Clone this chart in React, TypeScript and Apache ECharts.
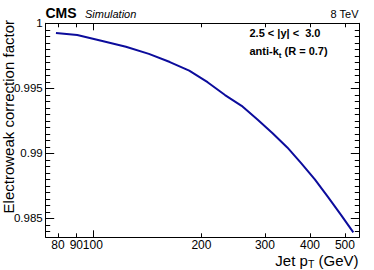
import React, { useEffect, useRef } from "react";
import * as echarts from "echarts";

// Jet pT bin centres (GeV) and electroweak correction factor
const PT = [79, 90.5, 105.5, 123.5, 143, 163.5, 185, 208, 232.5, 258.5, 286, 315, 346, 378.5, 412.5, 449, 487.5, 527.5];
const EW = [0.99925, 0.9991, 0.99866, 0.9982, 0.99765, 0.99702, 0.99636, 0.99547, 0.99448, 0.99365, 0.9926, 0.99155, 0.99045, 0.98923, 0.988, 0.98663, 0.98527, 0.98392];

const X_RANGE = [74, 548];
const Y_RANGE = [0.98354, 1.0];
const X_LABELS = [80, 90, 100, 200, 300, 400, 500];
const X_LONG_TICKS = [100];
const X_SHORT_TICKS = [80, 90, 200, 300, 400, 500];
const Y_LABELS = [0.985, 0.99, 0.995, 1];
const Y_MINOR_STEP = 0.0005;

const FONT = '"Liberation Sans", Arial, Helvetica, sans-serif';

const txt = (x: number, y: number, text: string, size: number, align: string, extra: any = {}) => ({
  type: "text",
  x,
  y,
  ...(extra.rotation !== undefined ? { rotation: extra.rotation } : {}),
  style: {
    text,
    fontSize: size,
    fontFamily: FONT,
    fontWeight: extra.fontWeight || "normal",
    fontStyle: extra.fontStyle || "normal",
    fill: "#000",
    align,
    textAlign: align,
    verticalAlign: "middle",
    textVerticalAlign: "middle",
    ...(extra.rich ? { rich: extra.rich } : {}),
  },
});

export default function App() {
  const ref = useRef<HTMLDivElement>(null);
  useEffect(() => {
    const chart = echarts.init(ref.current!, null, { renderer: "svg" });

    const yMinor: number[] = [];
    for (let k = 0; ; k++) {
      const v = Math.round((0.984 + k * Y_MINOR_STEP) * 1e5) / 1e5;
      if (v > Y_RANGE[1] + 1e-9) break;
      if (!Y_LABELS.some((l) => Math.abs(l - v) < 1e-9)) yMinor.push(v);
    }

    const lineStyle = { color: "#000", width: 1 };

    const xAxis = (position: string, ticks: number[], len: number, withLine: boolean, withLabels: boolean) => ({
      type: "log",
      logBase: 10,
      min: X_RANGE[0],
      max: X_RANGE[1],
      position,
      splitLine: { show: false },
      minorTick: { show: false },
      axisLine: { show: withLine, lineStyle },
      axisTick: { show: true, inside: true, length: len, customValues: ticks, lineStyle },
      axisLabel: withLabels
        ? {
            show: true,
            customValues: X_LABELS,
            formatter: (v: number) => String(Math.round(v)),
            fontSize: 12,
            fontFamily: FONT,
            color: "#000",
            margin: 1.5,
          }
        : { show: false },
    });

    const yAxis = (position: string, ticks: number[], len: number, withLine: boolean, withLabels: boolean) => ({
      type: "value",
      min: Y_RANGE[0],
      max: Y_RANGE[1],
      position,
      splitLine: { show: false },
      minorTick: { show: false },
      axisLine: { show: withLine, lineStyle },
      axisTick: { show: true, inside: true, length: len, customValues: ticks, lineStyle },
      axisLabel: withLabels
        ? {
            show: true,
            customValues: Y_LABELS,
            formatter: (v: number) => String(v),
            fontSize: 11.5,
            fontFamily: FONT,
            color: "#000",
            margin: 3,
          }
        : { show: false },
    });

    chart.setOption({
      animation: false,
      backgroundColor: "#fff",
      grid: { left: 45.7, right: 14.7, top: 23.3, bottom: 32.7, containLabel: false, outerBoundsMode: "none" },
      xAxis: [
        xAxis("bottom", X_SHORT_TICKS, 4, true, true),
        xAxis("bottom", X_LONG_TICKS, 7, false, false),
        xAxis("top", X_SHORT_TICKS, 4, true, false),
        xAxis("top", X_LONG_TICKS, 7, false, false),
      ],
      yAxis: [
        yAxis("left", Y_LABELS, 8.5, true, true),
        yAxis("left", yMinor, 4.5, false, false),
        yAxis("right", Y_LABELS, 8.5, true, false),
        yAxis("right", yMinor, 4.5, false, false),
      ],
      series: [
        {
          type: "line",
          xAxisIndex: 0,
          yAxisIndex: 0,
          data: PT.map((p, i) => [p, EW[i]]),
          symbol: "none",
          showSymbol: false,
          lineStyle: { color: "#0c0c9c", width: 2 },
          z: 5,
        },
      ],
      graphic: [
        txt(45.5, 12.5, "CMS", 14, "left", { fontWeight: "bold" }),
        txt(85, 13.5, "Simulation", 11, "left", { fontStyle: "italic" }),
        txt(358.5, 13.5, "8 TeV", 11, "right"),
        txt(249.5, 33, "2.5 < |y| <  3.0", 11, "left", { fontWeight: "bold" }),
        txt(249.5, 51, "anti-k{s|t} (R = 0.7)", 11, "left", {
          fontWeight: "bold",
          rich: { s: { fontSize: 8, fontWeight: "bold", fontFamily: FONT, fill: "#000", padding: [8, 0, 0, 0] } },
        }),
        // x-axis title "Jet p_T (GeV)", laid out right to left
        txt(358.5, 260.3, "(GeV)", 15, "right"),
        txt(314.3, 264.4, "T", 10.5, "right"),
        txt(307.9, 260.3, "Jet p", 15, "right"),
        txt(8, 20, "Electroweak correction factor", 15, "right", { rotation: Math.PI / 2 }),
      ],
    });
    return () => chart.dispose();
  }, []);
  return <div ref={ref} style={{ position: "absolute", left: 0, top: 0, width: 374, height: 270 }} />;
}
